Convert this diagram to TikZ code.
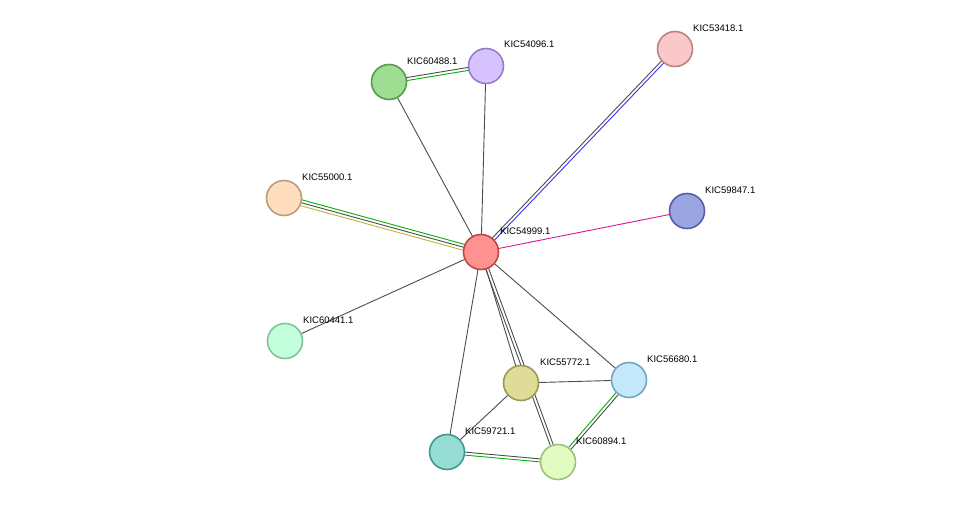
\documentclass[tikz,border=0pt]{standalone}
\usepackage{fontspec}
\setmainfont{Liberation Sans}
\usetikzlibrary{calc}
\tikzset{
  prot/.style={circle, draw, line width=1.6pt, minimum size=35pt, inner sep=0pt},
  lbl/.style={anchor=west, font=\fontsize{9.5pt}{11pt}\selectfont, inner sep=0pt},
  lnk/.style={line width=0.9pt}
}
% one line of an edge, offset sideways from the axis
\newcommand{\lane}[4]{\draw[lnk, #4] ($(#1)!#3!90:(#2)$) -- ($(#2)!#3!-90:(#1)$);}
\begin{document}
\begin{tikzpicture}[x=1pt,y=-1pt]
\useasboundingbox (0,0) rectangle (975,508);
% positions
\coordinate (c0) at (481,252);
\coordinate (c1) at (486,66);
\coordinate (c2) at (389,82);
\coordinate (c3) at (675,49);
\coordinate (c4) at (687,211);
\coordinate (c5) at (284,198);
\coordinate (c6) at (285,341);
\coordinate (c7) at (629,380);
\coordinate (c8) at (521,383);
\coordinate (c9) at (447,452);
\coordinate (c10) at (558,462);

% edges
\lane{c0}{c1}{0pt}{black!70}
\lane{c0}{c2}{0pt}{black!70}
\lane{c2}{c1}{1.5pt}{black!70}
\lane{c2}{c1}{-1.5pt}{green!70!black}
\lane{c0}{c3}{1.5pt}{black!70}
\lane{c0}{c3}{-1.5pt}{blue!80}
\lane{c0}{c4}{0pt}{magenta!80!violet}
\lane{c0}{c5}{3pt}{yellow!70!black}
\lane{c0}{c5}{0pt}{black!70}
\lane{c0}{c5}{-3pt}{green!70!black}
\lane{c0}{c6}{0pt}{black!70}
\lane{c0}{c7}{0pt}{black!70}
\lane{c0}{c8}{0pt}{black!70}
\lane{c0}{c10}{1.5pt}{black!70}
\lane{c0}{c10}{-1.5pt}{black!70}
\lane{c0}{c9}{0pt}{black!70}
\lane{c8}{c7}{0pt}{black!70}
\lane{c8}{c9}{0pt}{black!70}
\lane{c7}{c10}{1.5pt}{black!70}
\lane{c7}{c10}{-1.5pt}{green!70!black}
\lane{c9}{c10}{1.5pt}{black!70}
\lane{c9}{c10}{-1.5pt}{green!70!black}

% proteins
\node[prot, fill={rgb,255:red,255;green,145;blue,145}, draw={rgb,255:red,190;green,70;blue,70}] (n0) at (c0) {};
\node[prot, fill={rgb,255:red,214;green,194;blue,255}, draw={rgb,255:red,150;green,125;blue,200}] (n1) at (c1) {};
\node[prot, fill={rgb,255:red,158;green,222;blue,146}, draw={rgb,255:red,90;green,155;blue,80}] (n2) at (c2) {};
\node[prot, fill={rgb,255:red,250;green,200;blue,200}, draw={rgb,255:red,190;green,130;blue,130}] (n3) at (c3) {};
\node[prot, fill={rgb,255:red,155;green,165;blue,225}, draw={rgb,255:red,85;green,95;blue,165}] (n4) at (c4) {};
\node[prot, fill={rgb,255:red,255;green,222;blue,192}, draw={rgb,255:red,190;green,155;blue,125}] (n5) at (c5) {};
\node[prot, fill={rgb,255:red,195;green,255;blue,220}, draw={rgb,255:red,130;green,195;blue,155}] (n6) at (c6) {};
\node[prot, fill={rgb,255:red,195;green,232;blue,252}, draw={rgb,255:red,120;green,165;blue,195}] (n7) at (c7) {};
\node[prot, fill={rgb,255:red,222;green,220;blue,150}, draw={rgb,255:red,155;green,152;blue,90}] (n8) at (c8) {};
\node[prot, fill={rgb,255:red,150;green,222;blue,212}, draw={rgb,255:red,70;green,150;blue,145}] (n9) at (c9) {};
\node[prot, fill={rgb,255:red,225;green,252;blue,192}, draw={rgb,255:red,160;green,190;blue,125}] (n10) at (c10) {};

% labels
\node[lbl] at ($(c0)+(19,-21)$) {KIC54999.1};
\node[lbl] at ($(c1)+(18,-22)$) {KIC54096.1};
\node[lbl] at ($(c2)+(18,-21)$) {KIC60488.1};
\node[lbl] at ($(c3)+(18,-21)$) {KIC53418.1};
\node[lbl] at ($(c4)+(18,-21)$) {KIC59847.1};
\node[lbl] at ($(c5)+(18,-21)$) {KIC55000.1};
\node[lbl] at ($(c6)+(18,-21)$) {KIC60441.1};
\node[lbl] at ($(c7)+(18,-21)$) {KIC56680.1};
\node[lbl] at ($(c8)+(19,-21)$) {KIC55772.1};
\node[lbl] at ($(c9)+(18,-21)$) {KIC59721.1};
\node[lbl] at ($(c10)+(18,-21)$) {KIC60894.1};
\end{tikzpicture}
\end{document}
